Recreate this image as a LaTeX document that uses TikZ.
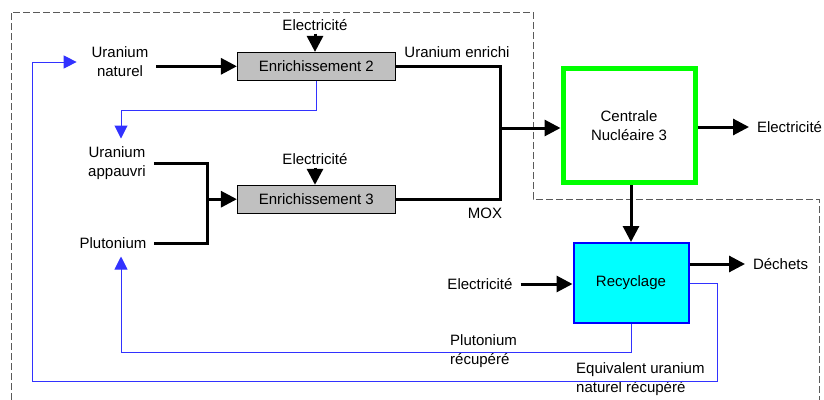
\documentclass[tikz,border=0pt]{standalone}
\usepackage{fontspec}
\setmainfont{Liberation Sans}
\usetikzlibrary{arrows.meta,positioning}
\definecolor{boxgray}{RGB}{192,192,192}
\definecolor{loopblue}{RGB}{50,50,255}
\definecolor{framegray}{RGB}{90,90,90}
\definecolor{plantgreen}{RGB}{0,255,0}
\definecolor{recycyan}{RGB}{0,255,255}
\tikzset{
  procbox/.style={draw=black, line width=0.8pt, rectangle, fill=boxgray, minimum width=158pt, minimum height=28pt, align=center},
  plant/.style={draw=plantgreen, line width=5pt, rectangle, fill=white, minimum width=132pt, minimum height=114pt, align=center},
  recy/.style={draw=blue, line width=2pt, rectangle, fill=recycyan, minimum width=115pt, minimum height=80pt, align=center},
  txt/.style={align=center, inner sep=2pt, outer sep=6pt},
  note/.style={align=left, inner sep=0pt, anchor=west},
  flow/.style={-{Triangle[length=16pt,width=16pt]}, line width=3pt, draw=black},
  plain/.style={line width=3pt, draw=black},
  back/.style={-{Triangle[length=13pt,width=13pt]}, line width=1pt, draw=loopblue},
  frame/.style={draw=framegray, line width=1pt, dash pattern=on 7pt off 3pt}
}

\begin{document}
\begin{tikzpicture}[x=1pt, y=-1pt, font=\fontsize{15}{19}\selectfont]
  \useasboundingbox (0,0) rectangle (824,399);
  \draw[frame] (11,400) -- (11,12) -- (533,12) -- (533,199) -- (819,199) -- (819,400);

  \node[procbox] (enrA) at (316.3,66.3) {Enrichissement 2};
  \node[procbox] (enrB) at (316.3,199.2) {Enrichissement 3};
  \node[plant] (centrale) at (629,125.5) {Centrale\\Nucléaire 3};
  \node[recy] (recyc) at (631,283) {Recyclage};

  \node[txt] (natU) at (120,62) {Uranium\\naturel};
  \node[txt] (appU) at (117,163) {Uranium\\appauvri};
  \node[txt] (pluto) at (113,243) {Plutonium};
  \node[txt, outer sep=1pt] (elecA) at (315,25) {Electricité};
  \node[txt, outer sep=1pt] (elecB) at (315,159) {Electricité};
  \node[txt, anchor=west] (elecC) at (749,127) {Electricité};
  \node[txt, anchor=west] (dechets) at (745,264) {Déchets};
  \node[txt] (elecD) at (480,284) {Electricité};
  \node[txt] (enrichi) at (457,52) {Uranium enrichi};
  \node[txt] (mox) at (485,213) {MOX};
  \node[note] (pluR) at (450,351) {Plutonium\\récupéré};
  \node[note] (eqU) at (576,379) {Equivalent uranium\\naturel récupéré};

  \coordinate (jn) at (500,128);
  \coordinate (mrg) at ([xshift=-29pt]enrB.west);
  \coordinate (bendA) at (121,110);
  \coordinate (bendP) at (121,352);
  \coordinate (bendR) at (717,381);
  \coordinate (bendL) at (32,381);

  \draw[flow] (natU.east |- enrA.west) -- (enrA.west);
  \draw[flow] (elecA.south) -- (elecA.south |- enrA.north);
  \draw[flow] (elecB.south) -- (elecB.south |- enrB.north);
  \draw[plain] (appU.east) -| (mrg) |- (pluto.east);
  \draw[flow] (mrg) -- (enrB.west);
  \draw[plain] (enrA.east) -| (jn) |- (enrB.east);
  \draw[flow] (jn) -- (jn -| centrale.west);
  \draw[flow] (centrale.east |- elecC.west) -- (elecC.west);
  \draw[flow] (recyc.north |- centrale.south) -- (recyc.north);
  \draw[flow] (recyc.east |- dechets.west) -- (dechets.west);
  \draw[flow] (elecD.east) -- (elecD.east -| recyc.west);

  \draw[back] (enrA.south) |- (bendA) -- (bendA |- appU.north);
  \draw[back] (recyc.south) |- (bendP) -- (bendP |- pluto.south);
  \draw[back, shorten >=7pt] (recyc.east) -| (bendR) -- (bendL) |- (natU.west);
\end{tikzpicture}
\end{document}
